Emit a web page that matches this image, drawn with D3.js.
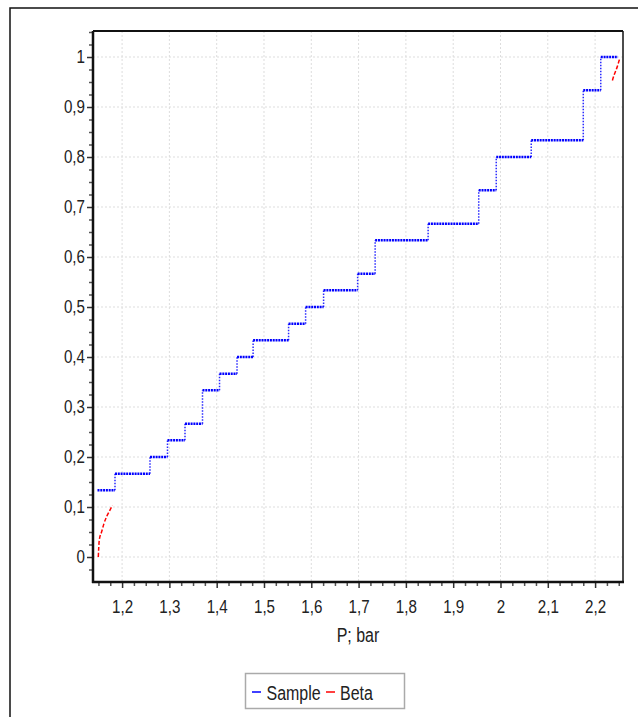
<!DOCTYPE html>
<html>
<head>
<meta charset="utf-8">
<script src="https://cdn.jsdelivr.net/npm/d3@7"></script>
<style>
  body { margin: 0; background: #fff; }
  svg text { font-family: "Liberation Sans", Arial, sans-serif; fill: #222; }
</style>
</head>
<body>
<div id="chart"></div>
<script>
// Empirical CDF of the sample (start of each step and its level), plus where the last step ends
const sampleX = [1.148, 1.185, 1.259, 1.296, 1.333, 1.370, 1.406, 1.443, 1.477, 1.552,
                 1.588, 1.626, 1.698, 1.735, 1.847, 1.954, 1.991, 2.065, 2.175, 2.212];
const sampleY = [0.1333, 0.1667, 0.2, 0.2333, 0.2667, 0.3333, 0.3667, 0.4, 0.4333, 0.4667,
                 0.5, 0.5333, 0.5667, 0.6333, 0.6667, 0.7333, 0.8, 0.8333, 0.9333, 1.0];
const sampleEnd = 2.248;

// Fitted Beta CDF, only the visible pieces at both ends
const betaLowX  = [1.1497, 1.1518, 1.1569, 1.1617, 1.1674, 1.1729, 1.1793];
const betaLowY  = [0.0, 0.034, 0.051, 0.067, 0.081, 0.091, 0.103];
const betaHighX = [2.2366, 2.2402, 2.2444, 2.2480, 2.2514];
const betaHighY = [0.953, 0.964, 0.974, 0.984, 0.995];

const xTicks = [1.2, 1.3, 1.4, 1.5, 1.6, 1.7, 1.8, 1.9, 2.0, 2.1, 2.2];
const xTickLabels = ["1,2","1,3","1,4","1,5","1,6","1,7","1,8","1,9","2","2,1","2,2"];
const yTicks = [0, 0.1, 0.2, 0.3, 0.4, 0.5, 0.6, 0.7, 0.8, 0.9, 1];
const yTickLabels = ["0","0,1","0,2","0,3","0,4","0,5","0,6","0,7","0,8","0,9","1"];

const W = 638, H = 717;
const L = 93, R = 623, T = 31, B = 582;
const SX = 0.82; // narrow face look: squeeze text horizontally

const svg = d3.select("#chart").append("svg").attr("width", W).attr("height", H);

// squeeze text around its own anchor point
function condense(sel) {
  sel.each(function() {
    const t = d3.select(this);
    const x0 = +t.attr("x") || 0;
    t.attr("x", x0 / SX).attr("transform", `scale(${SX},1)`);
  });
}

// outer frame
svg.append("rect").attr("x", 10).attr("y", 8).attr("width", 700).attr("height", 800)
  .attr("fill", "none").attr("stroke", "#111").attr("stroke-width", 1.5);

const x = d3.scaleLinear().domain([1.1385, 2.259]).range([L, R]);
const y = d3.scaleLinear().domain([-0.05, 1.052]).range([B, T]);

// grid
const grid = svg.append("g").attr("stroke", "#ddd").attr("stroke-width", 1).attr("stroke-dasharray", "2,2");
grid.selectAll(".gx").data(xTicks).join("line")
  .attr("x1", d => x(d)).attr("x2", d => x(d)).attr("y1", T).attr("y2", B);
grid.selectAll(".gy").data(yTicks).join("line")
  .attr("x1", L).attr("x2", R).attr("y1", d => y(d)).attr("y2", d => y(d));

// minor ticks every 0.025
const xMinor = d3.range(1.15, 2.26, 0.025).filter(v => Math.abs(v*10 - Math.round(v*10)) > 1e-6);
const yMinor = d3.range(-0.025, 1.06, 0.025).filter(v => Math.abs(v*10 - Math.round(v*10)) > 1e-6);

const xMinorAxis = svg.append("g").attr("transform", `translate(0,${B})`)
  .call(d3.axisBottom(x).tickValues(xMinor).tickSize(4).tickFormat(""));
const yMinorAxis = svg.append("g").attr("transform", `translate(${L},0)`)
  .call(d3.axisLeft(y).tickValues(yMinor).tickSize(4).tickFormat(""));
[xMinorAxis, yMinorAxis].forEach(g => {
  g.select(".domain").remove();
  g.selectAll("line").attr("stroke", "#555").attr("stroke-width", 1.5);
});

const xAxis = svg.append("g").attr("transform", `translate(0,${B})`)
  .call(d3.axisBottom(x).tickValues(xTicks).tickSize(6).tickPadding(12)
    .tickFormat((d, i) => xTickLabels[i]));
const yAxis = svg.append("g").attr("transform", `translate(${L},0)`)
  .call(d3.axisLeft(y).tickValues(yTicks).tickSize(6).tickPadding(2)
    .tickFormat((d, i) => yTickLabels[i]));
[xAxis, yAxis].forEach(g => {
  g.select(".domain").remove();
  g.selectAll("line").attr("stroke", "#333").attr("stroke-width", 1.5);
  g.selectAll("text").attr("font-size", 18.5).attr("fill", "#222")
    .style("font-family", '"Liberation Sans", Arial, sans-serif').call(condense);
});

// plot box: heavy left/bottom axis lines, lighter top/right
svg.append("line").attr("x1", L).attr("x2", L).attr("y1", T).attr("y2", B + 1).attr("stroke", "#111").attr("stroke-width", 2.5);
svg.append("line").attr("x1", L - 1).attr("x2", R + 1).attr("y1", B).attr("y2", B).attr("stroke", "#111").attr("stroke-width", 2.5);
svg.append("line").attr("x1", L).attr("x2", R).attr("y1", T).attr("y2", T).attr("stroke", "#111").attr("stroke-width", 2);
svg.append("line").attr("x1", R).attr("x2", R).attr("y1", T).attr("y2", B).attr("stroke", "#111").attr("stroke-width", 1.5);

// sample ECDF: horizontal steps and vertical jumps
const steps = sampleX.map((v, i) => ({ x0: v, x1: i < sampleX.length - 1 ? sampleX[i + 1] : sampleEnd, y: sampleY[i] }));
const jumps = sampleX.slice(1).map((v, i) => ({ x: v, y0: sampleY[i], y1: sampleY[i + 1] }));

svg.append("g").selectAll("line").data(jumps).join("line")
  .attr("x1", d => x(d.x)).attr("x2", d => x(d.x))
  .attr("y1", d => y(d.y0)).attr("y2", d => y(d.y1))
  .attr("stroke", "#2a2aff").attr("stroke-width", 1.5).attr("stroke-dasharray", "1.5,1.5");
svg.append("g").selectAll("line").data(steps).join("line")
  .attr("x1", d => x(d.x0)).attr("x2", d => x(d.x1))
  .attr("y1", d => y(d.y)).attr("y2", d => y(d.y))
  .attr("stroke", "#0000ff").attr("stroke-width", 2.5).attr("stroke-dasharray", "2,0.8");

// Beta CDF pieces
const betaLine = d3.line().x(d => x(d[0])).y(d => y(d[1])).curve(d3.curveMonotoneX);
[[betaLowX, betaLowY], [betaHighX, betaHighY]].forEach(([xs, ys]) => {
  svg.append("path").datum(xs.map((v, i) => [v, ys[i]]))
    .attr("d", betaLine).attr("fill", "none")
    .attr("stroke", "#ff0000").attr("stroke-width", 1.5).attr("stroke-dasharray", "4,2");
});

// axis title
svg.append("text").attr("x", (L + R) / 2).attr("y", 642).attr("text-anchor", "middle")
  .attr("font-size", 19.5).text("P; bar").call(condense);

// legend
const lg = svg.append("g");
lg.append("rect").attr("x", 245.5).attr("y", 673.5).attr("width", 159).attr("height", 35)
  .attr("fill", "#fff").attr("stroke", "#aaa").attr("stroke-width", 1.5);
const legendItems = [["Sample", "#0000ff", 252, 266.5], ["Beta", "#ff0000", 326, 340]];
legendItems.forEach(([label, color, lx, tx]) => {
  lg.append("line").attr("x1", lx).attr("x2", lx + 9).attr("y1", 692).attr("y2", 692)
    .attr("stroke", color).attr("stroke-width", 1.5);
  lg.append("text").attr("x", tx).attr("y", 700).attr("font-size", 19.5).attr("fill", "#111")
    .text(label).call(condense);
});
</script>
</body>
</html>
